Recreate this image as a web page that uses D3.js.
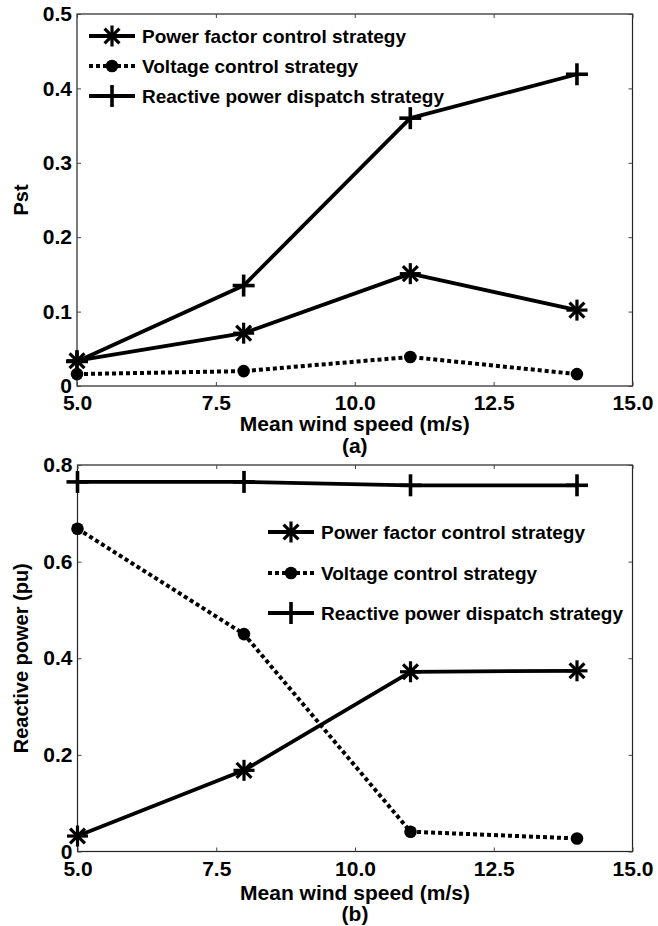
<!DOCTYPE html>
<html>
<head>
<meta charset="utf-8">
<script src="https://cdnjs.cloudflare.com/ajax/libs/d3/7.8.5/d3.min.js"></script>
<style>
  body { margin: 0; background: #fff; }
  text { font-family: "Liberation Sans", Arial, sans-serif; font-weight: bold; fill: #000; }
</style>
</head>
<body>
<script>
// Data

let windSpeed = [5, 8, 11, 14];

let pstPowerFactor = [0.034, 0.071, 0.151, 0.102];
let pstVoltage = [0.016, 0.020, 0.039, 0.016];
let pstDispatch = [0.033, 0.135, 0.360, 0.419];

let qPowerFactor = [0.032, 0.168, 0.372, 0.374];
let qVoltage = [0.668, 0.450, 0.041, 0.027];
let qDispatch = [0.765, 0.765, 0.758, 0.758];

let xTicks = [5, 7.5, 10, 12.5, 15];
let pstTicks = [0, 0.1, 0.2, 0.3, 0.4, 0.5];
let qTicks = [0, 0.2, 0.4, 0.6, 0.8];

let seriesNames = ["Power factor control strategy", "Voltage control strategy", "Reactive power dispatch strategy"];

let svgWidth = 658
let svgHeight = 926

let svg = d3.select("body")
  .append("svg")
  .attr("width", svgWidth)
  .attr("height", svgHeight)

// marker shapes
function drawMarker(g, type, x, y) {
  if (type === "star") {
    let r = 10.5;
    [0, 45, 90, 135].forEach(a => {
      let dx = r * Math.cos(a * Math.PI / 180), dy = r * Math.sin(a * Math.PI / 180);
      g.append("line")
        .attr("x1", x - dx).attr("y1", y - dy)
        .attr("x2", x + dx).attr("y2", y + dy)
        .attr("stroke", "#000").attr("stroke-width", 3.2);
    });
  } else if (type === "plus") {
    let r = 11;
    g.append("line").attr("x1", x - r).attr("y1", y).attr("x2", x + r).attr("y2", y)
      .attr("stroke", "#000").attr("stroke-width", 3.6);
    g.append("line").attr("x1", x).attr("y1", y - r).attr("x2", x).attr("y2", y + r)
      .attr("stroke", "#000").attr("stroke-width", 3.6);
  } else {
    g.append("circle").attr("cx", x).attr("cy", y).attr("r", 6.3).attr("fill", "#000");
  }
}

function drawPanel(opts) {
  let g = svg.append("g");
  let x = d3.scaleLinear().domain([5, 15]).range([opts.left, opts.right]);
  let y = d3.scaleLinear().domain(opts.yDomain).range([opts.bottom, opts.top]);

  // box
  g.append("rect")
    .attr("x", opts.left).attr("y", opts.top)
    .attr("width", opts.right - opts.left).attr("height", opts.bottom - opts.top)
    .attr("fill", "none").attr("stroke", "#222").attr("stroke-width", 1.2);

  // axes with inward ticks
  let bottomAxis = d3.axisBottom(x).tickValues(xTicks).tickSize(-4).tickPadding(opts.xPad)
    .tickFormat(d3.format(".1f"));
  let leftAxis = d3.axisLeft(y).tickValues(opts.yTicks).tickSize(-4).tickPadding(5)
    .tickFormat(d => d === 0 ? "0" : d3.format(".1f")(d));
  let topAxis = d3.axisTop(x).tickValues(xTicks).tickSize(-4).tickFormat("");
  let rightAxis = d3.axisRight(y).tickValues(opts.yTicks).tickSize(-4).tickFormat("");

  let axes = [
    [bottomAxis, `translate(0, ${opts.bottom})`],
    [leftAxis, `translate(${opts.left}, 0)`],
    [topAxis, `translate(0, ${opts.top})`],
    [rightAxis, `translate(${opts.right}, 0)`]
  ];
  axes.forEach(([ax, tr]) => {
    let a = g.append("g").attr("transform", tr).call(ax);
    a.select(".domain").remove();
    a.selectAll(".tick line").attr("stroke", "#444");
    a.selectAll("text").attr("font-size", 21).attr("font-family", "Liberation Sans, Arial, sans-serif")
      .attr("font-weight", "bold").attr("fill", "#000");
  });

  let line = d3.line().x((d, i) => x(windSpeed[i])).y(d => y(d));

  opts.series.forEach(s => {
    g.append("path")
      .datum(s.values)
      .attr("d", line)
      .attr("fill", "none")
      .attr("stroke", "#000")
      .attr("stroke-width", s.dotted ? 4 : 3.8)
      .attr("stroke-dasharray", s.dotted ? "4,3" : null)
      .attr("stroke-linejoin", "round");
    s.values.forEach((v, i) => drawMarker(g, s.marker, x(windSpeed[i]), y(v)));
  });

  // legend
  opts.series.forEach((s, i) => {
    let ly = opts.legendY[i];
    g.append("line")
      .attr("x1", opts.legendX).attr("x2", opts.legendX + 46)
      .attr("y1", ly).attr("y2", ly)
      .attr("stroke", "#000")
      .attr("stroke-width", s.dotted ? 4 : 3.8)
      .attr("stroke-dasharray", s.dotted ? "4,3" : null);
    drawMarker(g, s.marker, opts.legendX + 23, ly);
    g.append("text")
      .attr("x", opts.legendX + 53)
      .attr("y", ly)
      .attr("dy", "0.36em")
      .attr("font-size", 19)
      .text(s.name);
  });

  // axis labels
  g.append("text")
    .attr("transform", `translate(${opts.yTitleX}, ${(opts.top + opts.bottom) / 2}) rotate(-90)`)
    .attr("text-anchor", "middle")
    .attr("dy", "0.36em")
    .attr("font-size", 20)
    .text(opts.yTitle);

  g.append("text")
    .attr("x", (opts.left + opts.right) / 2)
    .attr("y", opts.xTitleY)
    .attr("text-anchor", "middle")
    .attr("font-size", 21)
    .text("Mean wind speed (m/s)");

  g.append("text")
    .attr("x", (opts.left + opts.right) / 2)
    .attr("y", opts.captionY)
    .attr("text-anchor", "middle")
    .attr("font-size", 21)
    .text(opts.caption);
}

drawPanel({
  left: 77, right: 632.5, top: 14, bottom: 386,
  yDomain: [0, 0.5], yTicks: pstTicks, xPad: 9,
  yTitle: "Pst", yTitleX: 21,
  xTitleY: 431, caption: "(a)", captionY: 453,
  legendX: 89, legendY: [36, 66, 96],
  series: [
    { name: seriesNames[0], values: pstPowerFactor, marker: "star" },
    { name: seriesNames[1], values: pstVoltage, marker: "dot", dotted: true },
    { name: seriesNames[2], values: pstDispatch, marker: "plus" }
  ]
});

drawPanel({
  left: 77.5, right: 632.5, top: 465, bottom: 851.5,
  yDomain: [0, 0.8], yTicks: qTicks, xPad: 10,
  yTitle: "Reactive power (pu)", yTitleX: 21,
  xTitleY: 900, caption: "(b)", captionY: 921,
  legendX: 268, legendY: [532, 573, 613],
  series: [
    { name: seriesNames[0], values: qPowerFactor, marker: "star" },
    { name: seriesNames[1], values: qVoltage, marker: "dot", dotted: true },
    { name: seriesNames[2], values: qDispatch, marker: "plus" }
  ]
});
</script>
</body>
</html>
